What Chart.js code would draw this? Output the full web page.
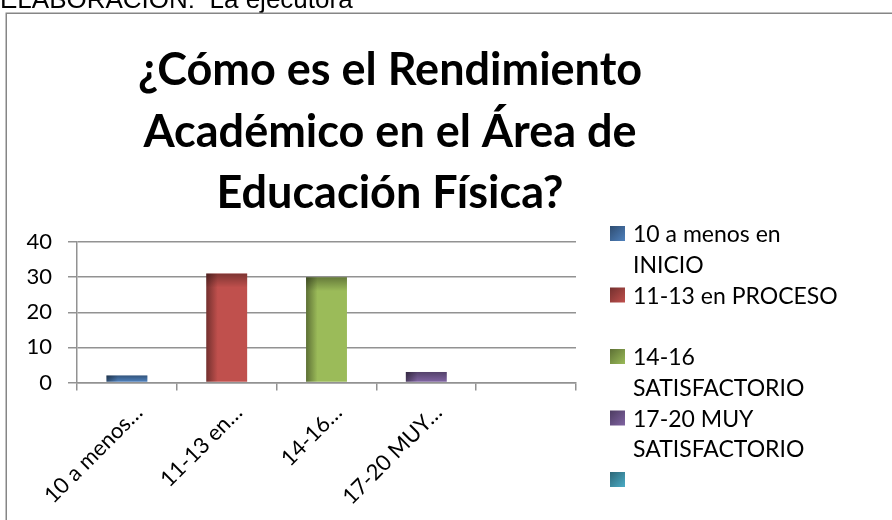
<!DOCTYPE html>
<html>
<head>
<meta charset="utf-8">
<script src="https://cdn.jsdelivr.net/npm/chart.js@4"></script>
<style>
html, body { margin: 0; padding: 0; background: #fff; overflow: hidden; }
#wrap { position: absolute; left: 0; top: 0; width: 892px; height: 520px; }
</style>
</head>
<body>
<div id="wrap"><canvas id="rendimientoChart"></canvas></div>
<script>
const categories = ["10 a menos en INICIO", "11-13 en PROCESO", "14-16 SATISFACTORIO", "17-20 MUY SATISFACTORIO", ""];
const tickLabels = ["10 a menos…", "11-13 en…", "14-16…", "17-20 MUY…", ""];
const values = [2, 31, 30, 3, null];
const yTicks = [0, 10, 20, 30, 40];
const barColors = ["#4F81BD", "#C0504D", "#9BBB59", "#8064A2", "#4BACC6"];
const titleLines = ["¿Cómo es el Rendimiento", "Académico en el Área de", "Educación Física?"];
const headerText = "ELABORACIÓN:  La ejecutora";

const gridColor = "#929292";

function shade(hex, f) {
	const n = parseInt(hex.slice(1), 16);
	const r = Math.round(((n >> 16) & 255) * f);
	const g = Math.round(((n >> 8) & 255) * f);
	const b = Math.round((n & 255) * f);
	return "rgb(" + r + "," + g + "," + b + ")";
}

// office style shading: dark left edge on each bar
function barFill(context) {
	const i = context.dataIndex;
	const base = barColors[i] || barColors[0];
	const chart = context.chart;
	const xs = chart.scales.x;
	if (i === undefined || !xs || !xs.width) return base;
	const cx = xs.getPixelForValue(i);
	const w = xs.width / categories.length * 0.41;
	if (!isFinite(cx) || !isFinite(w) || w <= 0) return base;
	const g = chart.ctx.createLinearGradient(cx - w / 2, 0, cx + w / 2, 0);
	g.addColorStop(0, shade(base, 0.6));
	g.addColorStop(0.28, base);
	g.addColorStop(1, base);
	return g;
}

const decorPlugin = {
	id: "decor",
	beforeDraw(chart) {
		const ctx = chart.ctx;
		ctx.save();
		ctx.fillStyle = "#fff";
		ctx.fillRect(0, 0, chart.width, chart.height);
		ctx.fillStyle = "#000";
		ctx.font = '26px "Liberation Sans"';
		ctx.textAlign = "left";
		ctx.textBaseline = "alphabetic";
		ctx.fillText(headerText, 0, 8);
		ctx.strokeStyle = "#868686";
		ctx.lineWidth = 1.5;
		ctx.strokeRect(6.25, 13.25, 1200, 1200);
		ctx.restore();
	},
	afterDatasetsDraw(chart) {
		const ctx = chart.ctx;
		const meta = chart.getDatasetMeta(0);
		ctx.save();
		meta.data.forEach(function (bar, i) {
			if (values[i] == null) return;
			const h = Math.min(14, bar.base - bar.y);
			if (!isFinite(h) || h <= 0) return;
			const g = ctx.createLinearGradient(0, bar.y, 0, bar.y + h);
			g.addColorStop(0, "rgba(0,0,0,0.35)");
			g.addColorStop(1, "rgba(0,0,0,0)");
			ctx.fillStyle = g;
			ctx.fillRect(bar.x - bar.width / 2, bar.y, bar.width, h);
		});
		ctx.restore();
	},
	afterDraw(chart) {
		const ctx = chart.ctx;
		ctx.save();
		// title
		ctx.fillStyle = "#000";
		ctx.font = "bold 45px Lato";
		ctx.textAlign = "center";
		ctx.textBaseline = "alphabetic";
		titleLines.forEach(function (line, i) {
			ctx.fillText(line, 390, 85 + i * 61.5);
		});
		// legend, wrapped like the original
		ctx.font = "23px Lato";
		ctx.textAlign = "left";
		ctx.textBaseline = "middle";
		categories.forEach(function (label, i) {
			const top = 226 + i * 61.5;
			const base = barColors[i];
			const g = ctx.createLinearGradient(610, top, 625, top + 15);
			g.addColorStop(0, shade(base, 0.6));
			g.addColorStop(1, base);
			ctx.fillStyle = g;
			ctx.fillRect(610, top, 15, 15);
			ctx.fillStyle = "#000";
			const words = label.split(" ");
			const lines = [];
			let cur = "";
			words.forEach(function (w) {
				const test = cur ? cur + " " + w : w;
				if (cur && ctx.measureText(test).width > 212) {
					lines.push(cur);
					cur = w;
				} else {
					cur = test;
				}
			});
			if (cur) lines.push(cur);
			lines.forEach(function (t, k) {
				ctx.fillText(t, 633, top + 9 + k * 30.5);
			});
		});
		ctx.restore();
	}
};

new Chart(document.getElementById("rendimientoChart"), {
	type: "bar",
	data: {
		labels: tickLabels,
		datasets: [
			{
				label: "Rendimiento",
				data: values,
				backgroundColor: barFill,
				borderWidth: 0,
				barPercentage: 0.41,
				categoryPercentage: 1
			}
		]
	},
	options: {
		responsive: true,
		maintainAspectRatio: false,
		animation: false,
		layout: {
			padding: { left: 0, top: 242, right: 316, bottom: 0 }
		},
		plugins: {
			legend: { display: false },
			title: { display: false },
			tooltip: { enabled: false }
		},
		scales: {
			x: {
				offset: true,
				afterFit(scale) { scale.height = 137.5; },
				grid: {
					offset: true,
					drawOnChartArea: false,
					drawTicks: true,
					tickLength: 8,
					color: gridColor,
					lineWidth: 1.5
				},
				border: { display: true, color: gridColor, width: 1.5 },
				ticks: {
					autoSkip: false,
					minRotation: 45,
					maxRotation: 45,
					padding: 9,
					labelOffset: 12,
					color: "#000",
					font: { family: "Lato", size: 22 }
				}
			},
			y: {
				min: 0,
				max: 40,
				afterFit(scale) { scale.width = 77; },
				afterBuildTicks(scale) {
					scale.ticks = yTicks.map(function (v) { return { value: v }; });
				},
				grid: {
					color: gridColor,
					lineWidth: 1.5,
					tickLength: 9
				},
				border: { display: true, color: gridColor, width: 1.5 },
				ticks: {
					padding: 16,
					color: "#000",
					font: { family: "Lato", size: 22 }
				}
			}
		}
	},
	plugins: [decorPlugin]
});
</script>
</body>
</html>
